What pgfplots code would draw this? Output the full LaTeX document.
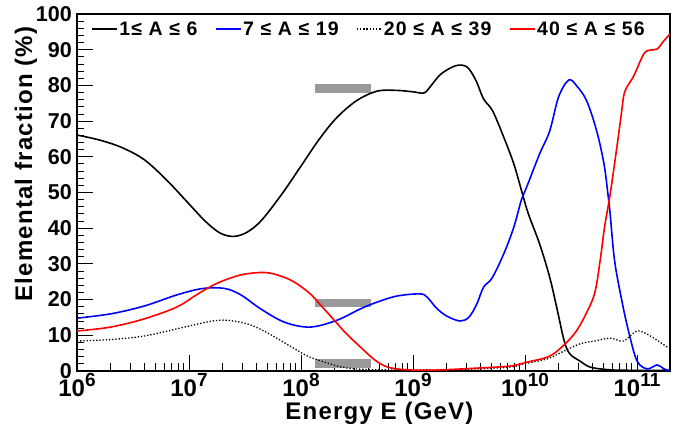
\documentclass[border=0pt]{standalone}
\usepackage{fontspec}
\setmainfont{Liberation Sans}
\newfontfamily\lblfont{Liberation Sans}[LetterSpace=5]
\newfontfamily\legfont{Liberation Sans}[LetterSpace=6]
\usepackage{pgfplots}
\pgfplotsset{compat=1.18}
\newcommand\ee[1]{10\raisebox{10pt}{\fontsize{19}{19}\selectfont #1}}
\definecolor{barg}{RGB}{153,153,153}
\begin{document}
\begin{tikzpicture}
\useasboundingbox (-77pt,-56pt) rectangle (609pt,371pt);
\begin{axis}[at={(0,0)}, anchor=south west, scale only axis, width=593pt, height=357pt,
  xmode=log, xmin=1e6, xmax=1.97e11, ymin=0, ymax=100,
  ytick={0,10,...,100}, minor y tick num=4,
  xtick={1e6,1e7,1e8,1e9,1e10,1e11},
  xticklabels={\ee{6},\ee{7},\ee{8},\ee{9},\ee{10},\ee{11}},
  minor xtick={2e6,3e6,4e6,5e6,6e6,7e6,8e6,9e6,2e7,3e7,4e7,5e7,6e7,7e7,8e7,9e7,2e8,3e8,4e8,5e8,6e8,7e8,8e8,9e8,2e9,3e9,4e9,5e9,6e9,7e9,8e9,9e9,2e10,3e10,4e10,5e10,6e10,7e10,8e10,9e10},
  tick pos=left, tick align=inside,
  major tick length=16pt, minor tick length=7.5pt,
  tick style={black, line width=0.9pt},
  axis line style={line width=1.4pt, black},
  /pgf/number format/assume math mode=true,
  yticklabel style={font=\bfseries\fontsize{21.5}{21.5}\selectfont, anchor=east, inner sep=0pt, xshift=-5pt},
  xticklabel style={font=\bfseries\fontsize{24}{24}\selectfont, anchor=base, inner sep=0pt, yshift=-26pt},
  xlabel={Energy E (GeV)}, ylabel={Elemental fraction (\%)},
  xlabel style={font=\lblfont\bfseries\fontsize{24}{24}\selectfont, at={(axis description cs:0.51,-0.137)}, anchor=base, inner sep=0pt},
  ylabel style={font=\lblfont\bfseries\fontsize{24}{24}\selectfont, at={(axis description cs:-0.0759,0.58)}, anchor=base, inner sep=0pt},
  legend style={draw=none, fill=none, at={(axis description cs:0.492,0.958)}, anchor=center,
    font=\legfont\bfseries\fontsize{19.5}{19.5}\selectfont, nodes={inner sep=1.5pt},
    /tikz/every even column/.append style={column sep=16pt}},
  legend columns=4, legend cell align=left,
  legend image code/.code={\draw[#1] (0pt,0pt) -- (25pt,0pt);},
  clip=true,
]
% gray bars
\addplot[fill=barg, draw=none, forget plot] coordinates {(1.33e8,77.9) (4.2e8,77.9) (4.2e8,80.3) (1.33e8,80.3)};
\addplot[fill=barg, draw=none, forget plot] coordinates {(1.33e8,17.8) (4.2e8,17.8) (4.2e8,20.3) (1.33e8,20.3)};
\addplot[fill=barg, draw=none, forget plot] coordinates {(1.33e8,0.8) (4.2e8,0.8) (4.2e8,3.3) (1.33e8,3.3)};

% 1 <= A <= 6
\addplot[black, line width=1.6pt, smooth, tension=0.55] table[row sep=\\, x expr={10^(\thisrow{lx})}, y=y] {
lx y\\
6.0 66.1\\ 6.2 64.7\\ 6.4 62.6\\ 6.6 59.2\\ 6.8 53.5\\ 7.0 46.8\\ 7.15 41.8\\ 7.28 38.6\\
7.40 37.7\\ 7.52 38.9\\ 7.65 42.3\\ 7.83 49.6\\ 8.0 57.4\\ 8.16 64.8\\ 8.32 71.0\\
8.5 75.8\\ 8.68 78.4\\ 8.857 78.6\\ 9.0 78.2\\ 9.1 77.9\\ 9.16 79.9\\ 9.25 83.2\\ 9.38 85.5\\
9.48 85.2\\ 9.56 81.5\\ 9.63 76.2\\ 9.71 72.9\\ 9.81 65.5\\ 9.9 58.0\\ 9.97 50.4\\ 10.03 44.0\\
10.13 35.6\\ 10.22 26.3\\ 10.29 16.8\\ 10.35 8.4\\ 10.40 4.8\\ 10.49 2.8\\ 10.58 1.1\\ 10.73 0.4\\
10.9 0.2\\ 11.295 0.2\\
};
\addlegendentry{1≤ A ≤ 6}

% 7 <= A <= 19
\addplot[blue, line width=1.6pt, smooth, tension=0.55] table[row sep=\\, x expr={10^(\thisrow{lx})}, y=y] {
lx y\\
6.0 14.8\\ 6.30 16.0\\ 6.6 18.2\\ 6.89 21.3\\ 7.10 23.0\\ 7.25 23.3\\ 7.36 22.8\\ 7.48 21.0\\
7.63 17.6\\ 7.85 13.7\\ 8.08 12.3\\ 8.32 14.2\\ 8.53 17.4\\ 8.68 19.3\\ 8.857 21.0\\ 9.06 21.6\\
9.125 20.7\\ 9.21 17.6\\ 9.30 15.4\\ 9.42 14.0\\ 9.5 15.1\\ 9.57 18.8\\ 9.63 23.5\\ 9.705 26.0\\
9.81 32.8\\ 9.9 40.3\\ 9.97 48.2\\ 10.018 51.8\\ 10.13 60.8\\ 10.22 67.2\\ 10.30 76.8\\ 10.39 81.5\\
10.46 79.9\\ 10.55 75.7\\ 10.64 67.2\\ 10.705 58.0\\ 10.74 49.6\\ 10.76 44.0\\ 10.80 30.8\\ 10.87 18.8\\
10.93 10.4\\ 11.0 2.8\\ 11.09 0.6\\ 11.18 1.7\\ 11.24 0.6\\ 11.295 0.0\\
};
\addlegendentry{7 ≤ A ≤ 19}

% 20 <= A <= 39
\addplot[black, line width=1.3pt, dash pattern=on 1.3pt off 1.9pt, smooth, tension=0.55] table[row sep=\\, x expr={10^(\thisrow{lx})}, y=y] {
lx y\\
6.0 8.4\\ 6.30 8.8\\ 6.6 9.8\\ 6.89 11.8\\ 7.19 13.9\\ 7.34 14.2\\ 7.52 13.2\\ 7.67 11.2\\
7.875 7.5\\ 8.05 4.3\\ 8.2 2.6\\ 8.38 1.0\\ 8.6 0.4\\ 9.0 0.3\\ 9.5 0.5\\ 9.87 1.1\\
10.02 2.2\\ 10.20 3.4\\ 10.35 5.6\\ 10.49 7.6\\ 10.62 8.4\\ 10.76 9.2\\ 10.88 8.4\\ 11.0 11.2\\
11.12 9.8\\ 11.27 6.7\\ 11.295 6.5\\
};
\addlegendentry{20 ≤ A ≤ 39}

% 40 <= A <= 56
\addplot[red, line width=1.6pt, smooth, tension=0.55] table[row sep=\\, x expr={10^(\thisrow{lx})}, y=y] {
lx y\\
6.0 11.2\\ 6.30 12.3\\ 6.6 14.6\\ 6.89 17.9\\ 7.07 21.4\\ 7.22 24.1\\ 7.34 25.7\\ 7.49 27.1\\
7.667 27.6\\ 7.80 26.8\\ 7.935 25.0\\ 8.083 21.6\\ 8.2 17.6\\ 8.306 13.9\\ 8.4 10.6\\ 8.5 7.6\\
8.68 2.6\\ 8.83 0.7\\ 9.125 0.2\\ 9.57 0.8\\ 9.87 1.4\\ 10.02 2.5\\ 10.20 3.9\\ 10.31 6.2\\
10.44 10.4\\ 10.53 15.1\\ 10.62 21.6\\ 10.67 30.8\\ 10.71 40.3\\ 10.76 49.5\\ 10.82 62.7\\ 10.86 72.0\\
10.89 78.2\\ 10.97 82.6\\ 11.06 88.8\\ 11.12 89.9\\ 11.18 90.2\\ 11.24 92.5\\ 11.295 94.4\\
};
\addlegendentry{40 ≤ A ≤ 56}
\end{axis}
\end{tikzpicture}
\end{document}
